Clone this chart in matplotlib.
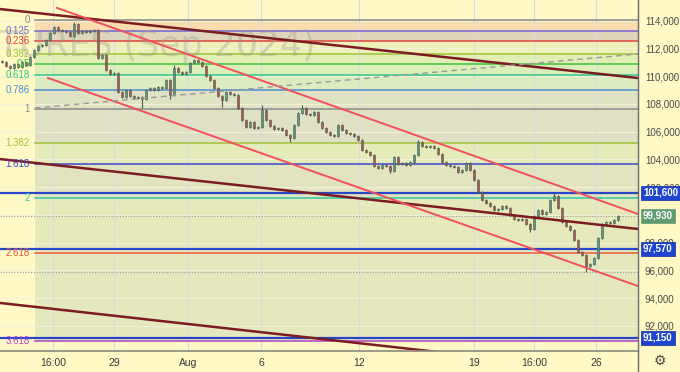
import matplotlib
matplotlib.use("Agg")
import matplotlib.pyplot as plt
import matplotlib.transforms as mtransforms
import numpy as np

# ---------------- data ----------------
closes = [
    111020, 110740, 110590, 110880, 110660, 111020, 110810, 111380, 111890, 112180,
    112250, 112610, 113110, 113550, 113330, 113260, 113190, 112900, 113760, 113110,
    113260, 113190, 113260, 113330, 111310, 111530, 110450, 110160, 110230, 108860,
    108500, 109010, 108570, 108430, 108500, 108360, 109010, 109150, 109010, 109220,
    109150, 109730, 108650, 110590, 110300, 110160, 110300, 110950, 111170, 111020,
    110740, 110020, 109730, 109150, 108570, 108290, 108860, 108720, 108650, 107710,
    106850, 106340, 106700, 106270, 106340, 107570, 106850, 106410, 106200, 106270,
    106120, 105760, 105550, 106480, 107350, 107710, 107280, 107210, 107420, 106700,
    106270, 105980, 105760, 105690, 106480, 106120, 105910, 105840, 105690, 105400,
    104680, 104540, 104320, 103530, 103390, 103600, 103530, 103170, 104180, 103670,
    103750, 103600, 103820, 104320, 105260, 104970, 104900, 104970, 104830, 104400,
    103820, 103600, 103530, 103460, 103100, 103240, 103750, 103240, 102520, 101660,
    101080, 100860, 100650, 100360, 100430, 100650, 100500, 100000, 99710, 99640,
    99710, 99350, 98990, 99930, 100360, 100070, 100220, 101080, 101370, 100500,
    99500, 99210, 98920, 98200, 97330, 97120, 96320, 96470, 96900, 98340,
    99350, 99500, 99420, 99640, 99930,
]
first_open = 111100
high_spikes = {18: 113910, 65: 107930, 75: 107930, 104: 105400, 138: 101580, 43: 110810}
low_spikes = {35: 107710, 42: 108360, 55: 107780, 72: 105260, 97: 103030, 132: 98770, 146: 95890}

last_price = 99930
low_marker = 95890
blue_levels = [101600, 97570, 91150]

fib_start = 8.25
fib_top, fib_bottom = 114050, 107650
fib_ratios = [0, 0.125, 0.236, 0.382, 0.5, 0.618, 0.786, 1, 1.382, 1.618, 2, 2.618, 3.618]
fib_labels = ["0", "0.125", "0.236", "0.382", "0.5", "0.618", "0.786", "1", "1.382", "1.618", "2", "2.618", "3.618"]
fib_colors = ["#8a8a8a", "#6f63d6", "#e0443c", "#9cc43a", "#3cc43c", "#2ec890", "#4a8fd0", "#8a8a8a",
              "#a3c23a", "#3c48c8", "#34c8a0", "#e85a40", "#b040d0"]

# trend lines as (index, price) pairs
maroon_lines = [((-0.5, 114840), (159, 109870)),
                ((-0.5, 104030), (159, 98990)),
                ((-0.5, 93660), (159, 88510))]
red_lines = [((13.75, 114920), (159, 100070)),
             ((11.5, 109870), (159, 94880))]
dashed_line = ((8.25, 107710), (159, 111600))

tick_pos = [12.75, 28, 46.5, 64.75, 89.25, 118, 133, 148.5]
tick_labels = ["16:00", "29", "Aug", "6", "12", "19", "16:00", "26"]

# ---------------- figure ----------------
BG = "#fff9c6"
FONT = ["Liberation Sans", "DejaVu Sans"]
plt.rcParams["font.family"] = FONT
fig = plt.figure(figsize=(6.8, 3.72), dpi=100, facecolor=BG)
ax = fig.add_axes([0, 0.0573, 638 / 680, 1 - 0.0573])
ax.set_facecolor(BG)
ax.set_xlim(-0.5, 159)
ax.set_ylim(90220, 115492)

# fib bands
levels = [fib_top - r * (fib_top - fib_bottom) for r in fib_ratios]
band_cols = ["#fbdcae", "#e0d6bc", "#eef0b8", "#e2efb4", "#dcefb8", "#dcecc0", "#dfe3c4",
             "#e0e0c4", "#e6ebba", "#e2e4c0", "#e6eabb", "#e4e8bc"]
for k in range(len(levels) - 1):
    ax.fill_between([fib_start, 159], levels[k + 1], levels[k], color=band_cols[k], lw=0, zorder=0.5)
for lv, c, lab in zip(levels, fib_colors, fib_labels):
    ax.plot([fib_start, 159], [lv, lv], color=c, lw=1.1, zorder=1)
    ax.text(6.9, lv, lab, color=c, fontsize=7.0, ha="right", va="center", zorder=3)

# grid
for t in np.arange(92000, 115000, 2000):
    ax.axhline(t, color="#f4f1d8", lw=0.8, zorder=0.8)
for tp in tick_pos:
    ax.axvline(tp, color="#d9dbe6", lw=0.8, zorder=0.8)

# watermark
ax.text(78.3, 112150, "RTS FUTURES (Sep 2024)", fontsize=25, color="#9a9a90", alpha=0.35,
        ha="right", va="center", zorder=1.2, clip_on=True, family="DejaVu Sans")

# horizontal lines
for lv in blue_levels:
    ax.axhline(lv, color="#2746c8", lw=1.6, zorder=1.5)
ax.axhline(last_price, color="#9a9a9a", lw=0.8, ls=(0, (1, 1.5)), zorder=1.5)
ax.axhline(low_marker, color="#9a9a9a", lw=0.8, ls=(0, (1, 1.5)), zorder=1.5)

# candles
opens = [first_open] + closes[:-1]
for i, (o, c) in enumerate(zip(opens, closes)):
    hi = max(o, c) + 90
    lo = min(o, c) - 90
    hi = max(hi, high_spikes.get(i, hi))
    lo = min(lo, low_spikes.get(i, lo))
    col = "#5c9a7c" if c >= o else "#a8584e"
    ax.vlines(i, lo, hi, color="#4c5a50", lw=0.8, zorder=2)
    ax.bar(i, max(abs(c - o), 40), bottom=min(o, c), width=0.6, color=col,
           edgecolor="#4c5a50", lw=0.4, zorder=2.1)

# trend lines
for (x0, y0), (x1, y1) in maroon_lines:
    ax.plot([x0, x1], [y0, y1], color="#7a1c22", lw=1.8, zorder=2.5)
for (x0, y0), (x1, y1) in red_lines:
    ax.plot([x0, x1], [y0, y1], color="#f2505c", lw=1.4, zorder=2.5)
(x0, y0), (x1, y1) = dashed_line
ax.plot([x0, x1], [y0, y1], color="#9a9a98", lw=1.0, ls=(0, (4, 3)), zorder=2.5)

# axes styling
for s in ["top", "left"]:
    ax.spines[s].set_visible(False)
ax.spines["bottom"].set_color("#8a8a80")
ax.spines["bottom"].set_linewidth(1.2)
ax.spines["right"].set_color("#6a6a6a")
ax.spines["right"].set_linewidth(1.0)
ax.yaxis.tick_right()
yt = np.arange(92000, 115000, 2000)
ax.set_yticks(yt)
# 100,000 is fully covered by the last-price box in the reference
ax.set_yticklabels(["" if v == 100000 else f"{v:,}" for v in yt])
ax.tick_params(axis="y", length=0, pad=5, labelsize=7.0, labelcolor="#4a4a4a")
ax.set_xticks(tick_pos)
ax.set_xticklabels(tick_labels)
ax.tick_params(axis="x", length=0, pad=5, labelsize=7.5, labelcolor="#3a3a3a")

# right vertical line to bottom of figure
fig.add_artist(plt.Line2D([638 / 680, 638 / 680], [0, 0.0573], color="#6a6a6a", lw=1.0))

# price boxes
trans = mtransforms.blended_transform_factory(ax.transAxes, ax.transData)
for lv in blue_levels:
    ax.text(1.0 + 5 / 638, lv, f"{lv:,}", transform=trans, fontsize=7.0, color="white",
            fontweight="bold", ha="left", va="center", clip_on=False, zorder=5,
            bbox=dict(boxstyle="square,pad=0.22", fc="#1f45d0", ec="#0e2a9a", lw=0.5))
ax.text(1.0 + 5 / 638, last_price, f"{last_price:,}", transform=trans, fontsize=7.0, color="white",
        fontweight="bold", ha="left", va="center", clip_on=False, zorder=5,
        bbox=dict(boxstyle="square,pad=0.22", fc="#5f9a72", ec="#5f9a72", lw=0.5))

# gear icon
fig.text(660 / 680, 1 - 361 / 372, "\u2699", fontsize=10, color="#444444", ha="center", va="center",
         family="DejaVu Sans")

fig.savefig("out.png", dpi=100, facecolor=BG)
